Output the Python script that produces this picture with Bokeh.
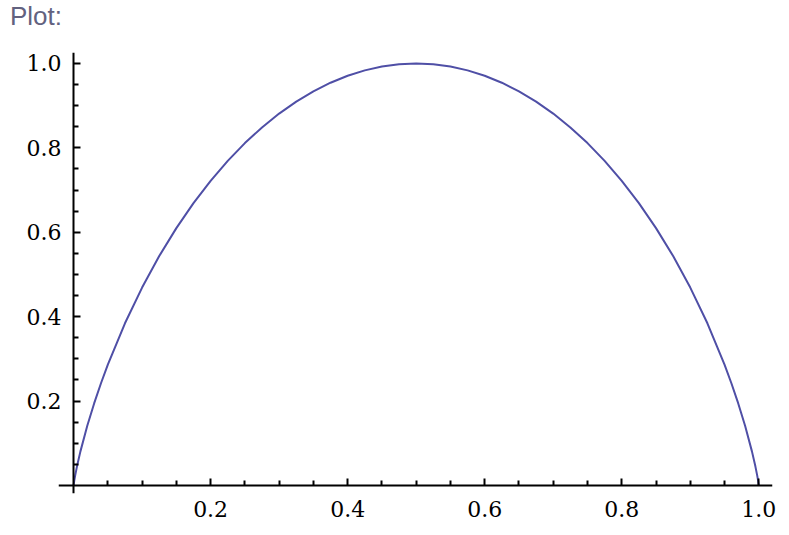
from bokeh.plotting import figure
from bokeh.layouts import column
from bokeh.models import (Range1d, FixedTicker, LinearAxis, CustomJSTickFormatter,
                          PrintfTickFormatter, Div)
from bokeh.embed import file_html
from bokeh.resources import INLINE

# Curve values (x, y)
x_vals = [0.0, 0.001, 0.0025, 0.005, 0.01, 0.02, 0.03, 0.04, 0.05, 0.075,
          0.1, 0.125, 0.15, 0.175, 0.2, 0.225, 0.25, 0.275, 0.3, 0.325,
          0.35, 0.375, 0.4, 0.425, 0.45, 0.475, 0.5,
          0.525, 0.55, 0.575, 0.6, 0.625, 0.65, 0.675, 0.7, 0.725,
          0.75, 0.775, 0.8, 0.825, 0.85, 0.875, 0.9, 0.925, 0.95,
          0.96, 0.97, 0.98, 0.99, 0.995, 0.9975, 0.999, 1.0]
y_vals = [0.0, 0.0114, 0.0252, 0.0454, 0.0808, 0.1414, 0.1944, 0.2423, 0.2864, 0.3843,
          0.469, 0.5436, 0.6098, 0.669, 0.7219, 0.7692, 0.8113, 0.8485, 0.8813, 0.9097,
          0.9341, 0.9544, 0.971, 0.9837, 0.9928, 0.9982, 1.0,
          0.9982, 0.9928, 0.9837, 0.971, 0.9544, 0.9341, 0.9097, 0.8813, 0.8485,
          0.8113, 0.7692, 0.7219, 0.669, 0.6098, 0.5436, 0.469, 0.3843, 0.2864,
          0.2423, 0.1944, 0.1414, 0.0808, 0.0454, 0.0252, 0.0114, 0.0]

x_major = [0.2, 0.4, 0.6, 0.8, 1.0]
y_major = [0.2, 0.4, 0.6, 0.8, 1.0]
minor_ticks = [0.05, 0.1, 0.15, 0.25, 0.3, 0.35, 0.45, 0.5, 0.55,
               0.65, 0.7, 0.75, 0.85, 0.9, 0.95]

heading = Div(text="Plot:", width=200, height=26, margin=(3, 0, 0, 10),
              styles={"font-family": "Liberation Sans", "font-size": "26px",
                      "color": "#62627f", "line-height": "1"})

p = figure(frame_width=714, frame_height=441,
           x_range=Range1d(-0.022, 1.02), y_range=Range1d(-0.019, 1.026),
           output_backend="svg", toolbar_location=None,
           min_border_left=58, min_border_right=10,
           min_border_top=23, min_border_bottom=35)

p.line(x_vals, y_vals, line_color="#4f4fa6", line_width=2)

p.xgrid.visible = False
p.ygrid.visible = False
p.outline_line_color = None
p.background_fill_color = "white"
p.border_fill_color = "white"

# Label-only axes at the frame edges
p.xaxis.ticker = FixedTicker(ticks=x_major, minor_ticks=[])
p.yaxis.ticker = FixedTicker(ticks=y_major, minor_ticks=[])
for ax in (p.xaxis, p.yaxis):
    ax.formatter = PrintfTickFormatter(format="%.1f")
    ax.axis_line_color = None
    ax.major_tick_line_color = None
    ax.minor_tick_line_color = None
    ax.major_label_text_font = "DejaVu Serif"
    ax.major_label_text_font_size = "22px"
    ax.major_label_text_color = "black"
p.xaxis.major_label_standoff = 1
p.yaxis.major_label_standoff = -9

# Line + tick axes through the origin
xline = LinearAxis(ticker=FixedTicker(ticks=x_major, minor_ticks=minor_ticks),
                   formatter=CustomJSTickFormatter(code="return ''"), fixed_location=0)
yline = LinearAxis(ticker=FixedTicker(ticks=y_major, minor_ticks=minor_ticks),
                   formatter=CustomJSTickFormatter(code="return ''"), fixed_location=0)
for ax in (xline, yline):
    ax.axis_line_color = "black"
    ax.axis_line_width = 2
    ax.major_tick_line_color = "black"
    ax.major_tick_line_width = 2
    ax.minor_tick_line_color = "black"
    ax.minor_tick_line_width = 2
    ax.major_tick_in = 7
    ax.major_tick_out = 0
    ax.minor_tick_in = 5
    ax.minor_tick_out = 0
    ax.major_label_standoff = 0
p.add_layout(xline, "below")
p.add_layout(yline, "left")

page = column(heading, p, spacing=0)

open("out.html", "w").write(file_html(page, INLINE))
